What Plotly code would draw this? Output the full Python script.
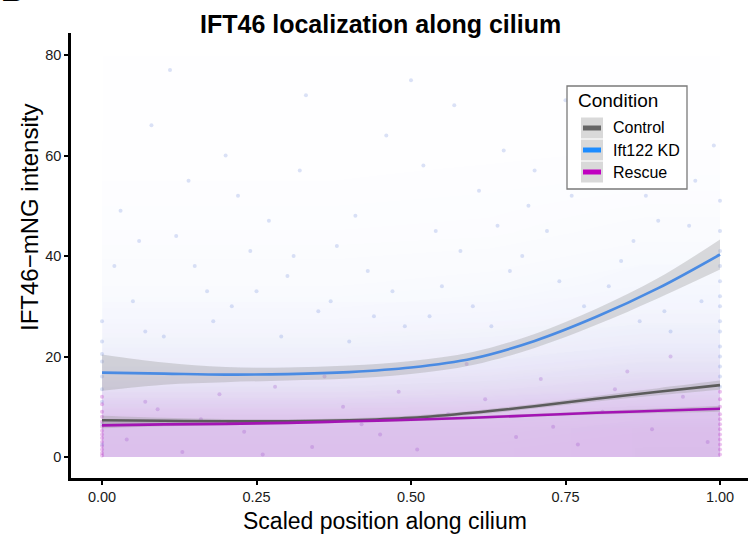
import plotly.graph_objects as go

# ---------------------------------------------------------------- data
conditions = ["Control", "Ift122 KD", "Rescue"]

# loess fits with standard-error half widths
fit_x = [0.0, 0.1, 0.2, 0.3, 0.4, 0.5, 0.6, 0.7, 0.8, 0.9, 1.0]
control_fit = [7.3, 7.2, 7.1, 7.1, 7.3, 7.8, 8.8, 10.1, 11.6, 13.0, 14.3]
control_se = [0.9, 0.6, 0.45, 0.4, 0.4, 0.4, 0.4, 0.45, 0.55, 0.7, 0.9]
kd_fit = [16.8, 16.6, 16.4, 16.5, 16.9, 17.8, 19.6, 23.1, 27.9, 33.6, 40.3]
kd_se = [3.6, 2.2, 1.5, 1.3, 1.3, 1.3, 1.3, 1.4, 1.6, 2.0, 3.0]
rescue_fit = [6.3, 6.5, 6.6, 6.8, 7.1, 7.4, 7.8, 8.3, 8.8, 9.2, 9.6]
rescue_se = [0.6, 0.4, 0.3, 0.3, 0.3, 0.3, 0.3, 0.3, 0.35, 0.45, 0.6]

# point-cloud density (share of covered area) per position / intensity bin
haze_x_edges = [0.0, 0.25, 0.5, 0.75, 1.0]
haze_y_edges = [0, 4, 8, 12, 16, 20, 25, 30, 40, 50, 60, 70, 80]
kd_density = [
    [0.13, 0.13, 0.13, 0.14],
    [0.13, 0.13, 0.13, 0.14],
    [0.12, 0.12, 0.12, 0.13],
    [0.105, 0.105, 0.11, 0.12],
    [0.09, 0.09, 0.095, 0.11],
    [0.07, 0.07, 0.075, 0.09],
    [0.05, 0.05, 0.055, 0.07],
    [0.032, 0.032, 0.037, 0.048],
    [0.018, 0.018, 0.02, 0.03],
    [0.01, 0.01, 0.012, 0.015],
    [0.005, 0.005, 0.006, 0.007],
    [0.002, 0.002, 0.003, 0.003],
]
rescue_density = [
    [0.22, 0.22, 0.22, 0.23],
    [0.21, 0.21, 0.21, 0.22],
    [0.15, 0.15, 0.16, 0.18],
    [0.075, 0.075, 0.085, 0.11],
    [0.03, 0.03, 0.04, 0.06],
    [0.012, 0.012, 0.018, 0.025],
    [0.005, 0.005, 0.005, 0.008],
    [0.0, 0.0, 0.0, 0.0],
    [0.0, 0.0, 0.0, 0.0],
    [0.0, 0.0, 0.0, 0.0],
    [0.0, 0.0, 0.0, 0.0],
    [0.0, 0.0, 0.0, 0.0],
]
control_density = [
    [0.06, 0.06, 0.06, 0.06],
    [0.06, 0.06, 0.06, 0.06],
    [0.05, 0.05, 0.05, 0.055],
    [0.03, 0.03, 0.035, 0.04],
    [0.018, 0.018, 0.02, 0.028],
    [0.01, 0.01, 0.012, 0.018],
    [0.005, 0.005, 0.005, 0.008],
    [0.0, 0.0, 0.0, 0.003],
    [0.0, 0.0, 0.0, 0.0],
    [0.0, 0.0, 0.0, 0.0],
    [0.0, 0.0, 0.0, 0.0],
    [0.0, 0.0, 0.0, 0.0],
]

# individual measurements at the cilium base and tip
base_rescue_y = [0.3, 0.8, 1.5, 2.2, 3.0, 3.8, 4.5, 5.2, 6.0, 7.0, 8.0, 9.0, 10.5, 12.0]
base_kd_y = [2.5, 6.5, 11.0, 13.5, 16.0, 19.0, 20.5, 23.0, 27.0]
tip_rescue_y = [0.5, 1.5, 2.5, 3.5, 4.5, 5.5, 6.5, 7.5, 8.5, 10.0, 11.5, 13.0]
tip_kd_y = [14.0, 16.0, 18.0, 20.0, 22.0, 25.0, 27.0, 30.0, 32.0, 35.0, 38.0, 41.0, 45.0, 51.0]

# scattered high-intensity measurements along the cilium
kd_scatter_x = [0.05, 0.12, 0.18, 0.22, 0.30, 0.35, 0.41, 0.47, 0.52, 0.58, 0.63, 0.69,
                0.74, 0.80, 0.86, 0.91, 0.96, 0.08, 0.15, 0.27, 0.33, 0.44, 0.55, 0.61,
                0.72, 0.78, 0.84, 0.93, 0.03, 0.20, 0.38, 0.50, 0.66, 0.88, 0.10, 0.25,
                0.46, 0.70, 0.95, 0.57, 0.02, 0.07, 0.14, 0.17, 0.24, 0.29, 0.32, 0.37,
                0.43, 0.49, 0.54, 0.60, 0.65, 0.68, 0.76, 0.82, 0.87, 0.90, 0.97, 0.99,
                0.11, 0.21, 0.31, 0.40, 0.53, 0.64, 0.75, 0.85, 0.92, 0.06]
kd_scatter_y = [31, 44, 27, 52, 36, 29, 48, 33, 58, 41, 26, 50,
                35, 62, 43, 29, 55, 66, 38, 47, 72, 28, 34, 53,
                45, 30, 39, 68, 49, 60, 42, 75, 37, 52, 24, 33,
                64, 57, 46, 70, 38, 25, 55, 33, 41, 24, 57, 31,
                37, 26, 45, 30, 61, 40, 52, 34, 27, 47, 31, 62,
                77, 30, 40, 23, 28, 46, 71, 57, 25, 43]

# low-intensity measurements scattered through the dense band
low_x = [0.04, 0.09, 0.13, 0.19, 0.23, 0.28, 0.34, 0.39, 0.42, 0.48, 0.51, 0.56,
         0.62, 0.67, 0.71, 0.77, 0.81, 0.85, 0.89, 0.94, 0.98, 0.16, 0.26, 0.36,
         0.45, 0.59, 0.73, 0.83, 0.92, 0.07]
low_y = [3.5, 9.5, 1.0, 12.5, 5.0, 14.0, 2.0, 10.0, 6.5, 13.0, 1.5, 8.5,
         11.5, 4.0, 15.5, 2.5, 9.0, 17.0, 5.5, 12.0, 3.0, 7.5, 0.5, 16.0,
         4.5, 18.5, 6.0, 13.5, 20.0, 11.0]

x_ticks = [0.0, 0.25, 0.5, 0.75, 1.0]
x_tick_labels = ["0.00", "0.25", "0.50", "0.75", "1.00"]
y_ticks = [0, 20, 40, 60, 80]
y_tick_labels = ["0", "20", "40", "60", "80"]

# ---------------------------------------------------------------- styling
line_colors = {"Control": "#5c5c5c", "Ift122 KD": "#4a8be3", "Rescue": "#a314b4"}
key_colors = {"Control": "#666666", "Ift122 KD": "#1c8cff", "Rescue": "#c000c0"}
band_fill = "rgba(150,150,150,0.33)"
FONT = "Liberation Sans, Arial, Helvetica, sans-serif"

W, H = 748, 537
ML, MR, MT, MB = 71, 0, 33, 59
PW, PH = W - ML - MR, H - MT - MB


def fx(px):
    return (px - ML) / PW


def fy(py):
    return (H - MB - py) / PH


def alpha_scale(r, g, b):
    return [[0, f"rgba({r},{g},{b},0)"], [1, f"rgba({r},{g},{b},1)"]]


fig = go.Figure()

# point cloud as density haze
for dens, rgb in [(kd_density, (80, 125, 230)),
                  (control_density, (115, 115, 135)),
                  (rescue_density, (205, 55, 205))]:
    fig.add_trace(go.Heatmap(
        x=haze_x_edges, y=haze_y_edges, z=dens, zmin=0, zmax=1,
        colorscale=alpha_scale(*rgb), showscale=False, zsmooth="best",
        hoverinfo="skip"))

pt_kd = dict(size=4, color="rgba(90,125,215,0.22)")
pt_rs = dict(size=4, color="rgba(190,50,200,0.30)")
pt_low = dict(size=4, color="rgba(150,70,200,0.25)")
fig.add_trace(go.Scatter(x=kd_scatter_x, y=kd_scatter_y, mode="markers",
                         marker=pt_kd, hoverinfo="skip"))
fig.add_trace(go.Scatter(x=low_x, y=low_y, mode="markers",
                         marker=pt_low, hoverinfo="skip"))
fig.add_trace(go.Scatter(x=[0.0] * len(base_kd_y), y=base_kd_y, mode="markers",
                         marker=pt_kd, hoverinfo="skip"))
fig.add_trace(go.Scatter(x=[1.0] * len(tip_kd_y), y=tip_kd_y, mode="markers",
                         marker=pt_kd, hoverinfo="skip"))
fig.add_trace(go.Scatter(x=[0.0] * len(base_rescue_y), y=base_rescue_y, mode="markers",
                         marker=pt_rs, hoverinfo="skip"))
fig.add_trace(go.Scatter(x=[1.0] * len(tip_rescue_y), y=tip_rescue_y, mode="markers",
                         marker=pt_rs, hoverinfo="skip"))

# confidence bands and fitted curves
fits = {"Control": (control_fit, control_se),
        "Ift122 KD": (kd_fit, kd_se),
        "Rescue": (rescue_fit, rescue_se)}
for name in conditions:
    f, se = fits[name]
    lo = [a - b for a, b in zip(f, se)]
    hi = [a + b for a, b in zip(f, se)]
    fig.add_trace(go.Scatter(x=fit_x, y=lo, mode="lines",
                             line=dict(width=0, shape="spline"), hoverinfo="skip"))
    fig.add_trace(go.Scatter(x=fit_x, y=hi, mode="lines", fill="tonexty",
                             fillcolor=band_fill,
                             line=dict(width=0, shape="spline"), hoverinfo="skip"))
for name in conditions:
    f, _ = fits[name]
    fig.add_trace(go.Scatter(x=fit_x, y=f, mode="lines", name=name,
                             line=dict(color=line_colors[name], width=2.6, shape="spline")))

# ---------------------------------------------------------------- legend
shapes = [dict(type="rect", xref="paper", yref="paper",
               x0=fx(567), x1=fx(687), y0=fy(189), y1=fy(86),
               line=dict(color="#7a7a7a", width=1.3), fillcolor="white", layer="above")]
annotations = [dict(text="Condition", xref="paper", yref="paper", x=fx(576), y=fy(101),
                    xanchor="left", yanchor="middle", showarrow=False,
                    font=dict(family=FONT, size=19, color="black"))]
key_rows = [128, 150, 172]
for name, yc in zip(conditions, key_rows):
    shapes.append(dict(type="rect", xref="paper", yref="paper",
                       x0=fx(581), x1=fx(603), y0=fy(yc + 10.5), y1=fy(yc - 10.5),
                       line=dict(width=0), fillcolor="#d9d9d9", layer="above"))
    shapes.append(dict(type="line", xref="paper", yref="paper",
                       x0=fx(583), x1=fx(601), y0=fy(yc), y1=fy(yc),
                       line=dict(color=key_colors[name], width=5), layer="above"))
    annotations.append(dict(text=name, xref="paper", yref="paper", x=fx(611), y=fy(yc),
                            xanchor="left", yanchor="middle", showarrow=False,
                            font=dict(family=FONT, size=16, color="black")))
for yc in [139, 161]:
    shapes.append(dict(type="line", xref="paper", yref="paper",
                       x0=fx(581), x1=fx(603), y0=fy(yc), y1=fy(yc),
                       line=dict(color="#f2f2f2", width=1), layer="above"))

# titles
annotations += [
    dict(text="<b>IFT46 localization along cilium</b>", xref="paper", yref="paper",
         x=fx(380), y=fy(24), xanchor="center", yanchor="middle", showarrow=False,
         font=dict(family=FONT, size=25, color="black")),
    dict(text="Scaled position along cilium", xref="paper", yref="paper",
         x=fx(385), y=fy(521), xanchor="center", yanchor="middle", showarrow=False,
         font=dict(family=FONT, size=23, color="black")),
    dict(text="IFT46\u2212mNG intensity", xref="paper", yref="paper",
         x=fx(29), y=fy(218), xanchor="center", yanchor="middle", showarrow=False,
         textangle=-90, font=dict(family=FONT, size=24, color="black")),
    dict(text="<b>B</b>", xref="paper", yref="paper",
         x=fx(-1), y=fy(10), xanchor="left", yanchor="bottom", showarrow=False,
         font=dict(family=FONT, size=32, color="black")),
]

axis_common = dict(showgrid=False, zeroline=False, showline=True, linecolor="black",
                   linewidth=2.6, ticks="outside", ticklen=4, tickwidth=2.4,
                   tickcolor="black", tickfont=dict(family=FONT, size=14.5, color="#1a1a1a"))

fig.update_layout(
    width=W, height=H,
    margin=dict(l=ML, r=MR, t=MT, b=MB, pad=0),
    paper_bgcolor="white", plot_bgcolor="white",
    showlegend=False,
    shapes=shapes, annotations=annotations,
    xaxis=dict(range=[-0.0502, 1.0453], tickvals=x_ticks, ticktext=x_tick_labels,
               **axis_common),
    yaxis=dict(range=[-4.18, 84.38], tickvals=y_ticks, ticktext=y_tick_labels,
               **axis_common),
)

fig.write_html("out.html")
